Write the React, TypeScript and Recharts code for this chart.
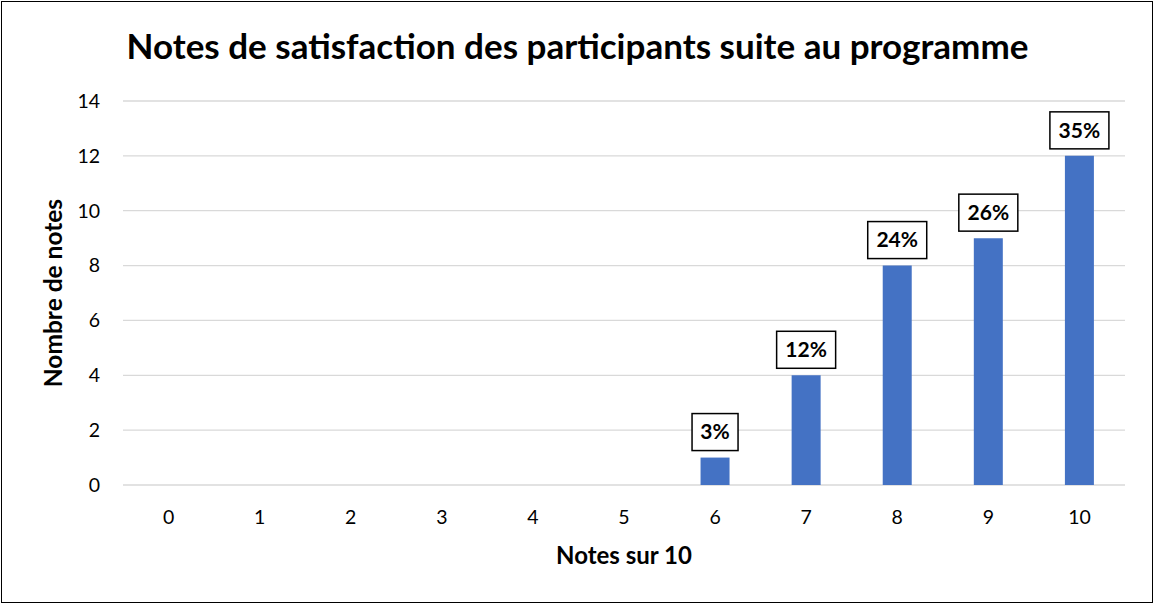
import { Bar, BarChart, CartesianGrid, LabelList, XAxis, YAxis } from "recharts";

const notes = ["0", "1", "2", "3", "4", "5", "6", "7", "8", "9", "10"];
const counts = [0, 0, 0, 0, 0, 0, 1, 4, 8, 9, 12];
const percents = ["", "", "", "", "", "", "3%", "12%", "24%", "26%", "35%"];
const yTicks = [0, 2, 4, 6, 8, 10, 12, 14];

const FONT = "Lato, 'Noto Sans', sans-serif";

const chartData = notes.map((note, i) => ({ note, count: counts[i], pct: percents[i] }));

function PercentBox(props: any) {
  const { x, y, width, value } = props;
  if (!value) {
    return null;
  }
  const text = String(value);
  const boxW = 20 + 13 * text.length;
  const boxH = 37;
  const cx = Number(x) + Number(width) / 2;
  const bottom = Number(y) - 7;
  return (
    <g>
      <rect x={cx - boxW / 2} y={bottom - boxH} width={boxW} height={boxH} fill="#fff" stroke="#000" strokeWidth={1.5} />
      <text x={cx} y={bottom - boxH / 2} dy="0.35em" textAnchor="middle" fontFamily={FONT} fontSize={21} fontWeight={700} fill="#000">
        {text}
      </text>
    </g>
  );
}

export default function App() {
  return (
    <div style={{ position: "absolute", left: 0, top: 0, width: 1155, height: 604, background: "#fff", fontFamily: FONT }}>
      <div style={{ position: "absolute", left: 1, top: 1, width: 1152, height: 602, boxSizing: "border-box", border: "1px solid #000" }} />
      <div style={{ position: "absolute", left: 0, top: 24, width: 1155, textAlign: "center", fontSize: 35, fontWeight: 700, color: "#000", whiteSpace: "nowrap" }}>
        Notes de satisfaction des participants suite au programme
      </div>
      <div style={{ position: "absolute", left: 0, top: 540, width: 1248, textAlign: "center", fontSize: 24, fontWeight: 700, color: "#000" }}>
        Notes sur 10
      </div>
      <div style={{ position: "absolute", left: 52, top: 293, transform: "translate(-50%, -50%) rotate(-90deg)", whiteSpace: "nowrap", fontSize: 24.5, fontWeight: 700, color: "#000" }}>
        Nombre de notes
      </div>
      <BarChart width={1155} height={604} data={chartData} margin={{ top: 101, right: 30, bottom: 79, left: 63 }}>
        <CartesianGrid stroke="#d9d9d9" strokeWidth={1.3} vertical={false} />
        <XAxis
          dataKey="note"
          height={40}
          axisLine={false}
          tickLine={false}
          tickMargin={19}
          tick={{ fill: "#000", fontSize: 19.5, fontFamily: FONT }}
        />
        <YAxis
          width={60}
          domain={[0, 14]}
          ticks={yTicks}
          axisLine={false}
          tickLine={false}
          tickMargin={17}
          tick={{ fill: "#000", fontSize: 19.5, fontFamily: FONT }}
        />
        <Bar dataKey="count" fill="#4472C4" barSize={29} isAnimationActive={false}>
          <LabelList dataKey="pct" content={PercentBox} />
        </Bar>
      </BarChart>
    </div>
  );
}
